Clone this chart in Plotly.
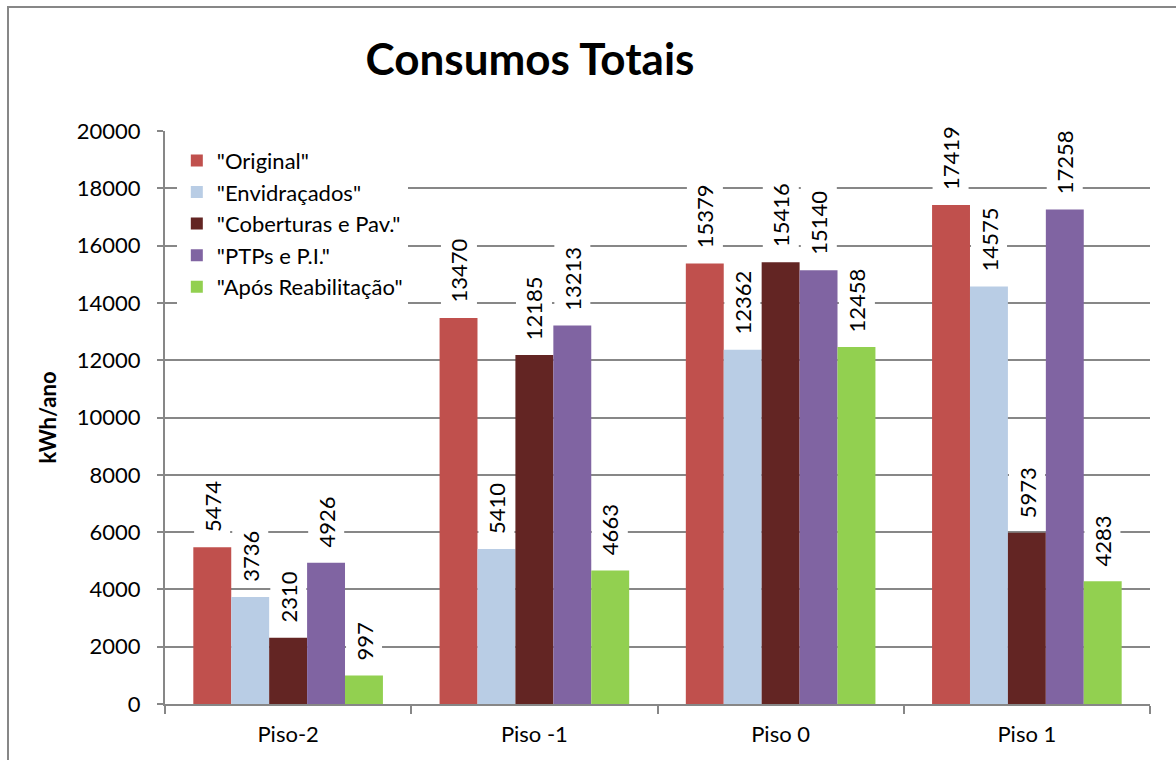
import plotly.graph_objects as go

# Energy consumption per floor for each rehabilitation scenario (kWh/ano)
floors = ["Piso-2", "Piso -1", "Piso 0", "Piso 1"]
original = [5474, 13470, 15379, 17419]
envidracados = [3736, 5410, 12362, 14575]
coberturas = [2310, 12185, 15416, 5973]
ptps = [4926, 13213, 15140, 17258]
apos_reab = [997, 4663, 12458, 4283]

series = [
    ('"Original"', original, "#C0504D"),
    ('"Envidraçados"', envidracados, "#B9CDE5"),
    ('"Coberturas e Pav."', coberturas, "#632523"),
    ('"PTPs e P.I."', ptps, "#8064A2"),
    ('"Após Reabilitação"', apos_reab, "#92D050"),
]

FONT = "Lato"
W, H = 1176, 760
margin = dict(l=165, r=26, t=131, b=56)
bargap = 0.23

fig = go.Figure()
for name, vals, color in series:
    fig.add_trace(go.Bar(
        x=floors, y=vals, name=name, marker_color=color,
        marker_line_width=0,
    ))

# value labels: rotated, on white boxes above each bar
plot_w = W - margin["l"] - margin["r"]
bar_px = plot_w / len(floors) * (1 - bargap) / len(series)
n = len(series)
for j, (name, vals, color) in enumerate(series):
    shift = (j - (n - 1) / 2) * bar_px
    for f, v in zip(floors, vals):
        fig.add_annotation(
            x=f, y=v, xref="x", yref="y", text=str(v), textangle=-90,
            showarrow=False, yanchor="bottom", xanchor="center",
            xshift=shift, yshift=10, bgcolor="white",
            font=dict(family=FONT, size=22, color="black"),
            borderpad=4,
        )

# outer chart frame
fig.add_shape(type="rect", xref="paper", yref="paper",
              x0=-157 / plot_w, x1=1.2, y0=-0.3,
              y1=(H - margin["b"] - 7) / (H - margin["t"] - margin["b"]),
              line=dict(color="#878787", width=2), fillcolor="rgba(0,0,0,0)",
              layer="above")

fig.update_layout(
    width=W, height=H, margin=margin,
    paper_bgcolor="white", plot_bgcolor="white",
    barmode="group", bargap=bargap, bargroupgap=0,
    font=dict(family=FONT, size=22, color="black"),
    title=dict(text="<b>Consumos Totais</b>", x=530 / W, xanchor="center",
               y=1 - 60 / H, yanchor="middle",
               font=dict(family=FONT, size=44, color="black")),
    legend=dict(x=0.012, y=0.985, xanchor="left", yanchor="top",
                bgcolor="white", font=dict(family=FONT, size=22),
                itemwidth=30, tracegroupgap=0),
    showlegend=True,
)
fig.update_xaxes(
    showline=True, linecolor="#878787", linewidth=2,
    ticks="outside", tickson="boundaries", ticklen=8, tickcolor="#878787",
    tickwidth=2, tickfont=dict(family=FONT, size=22), ticklabelstandoff=10,
)
fig.update_yaxes(
    range=[0, 20000], dtick=2000, tickformat="d",
    showgrid=True, gridcolor="#878787", gridwidth=2,
    showline=True, linecolor="#878787", linewidth=2,
    ticks="outside", ticklen=6, tickcolor="#878787", tickwidth=2,
    tickfont=dict(family=FONT, size=22), ticklabelstandoff=12,
    title=dict(text="<b>kWh/ano</b>", font=dict(family=FONT, size=22), standoff=14),
    zeroline=False,
)

fig.write_html("out.html")
